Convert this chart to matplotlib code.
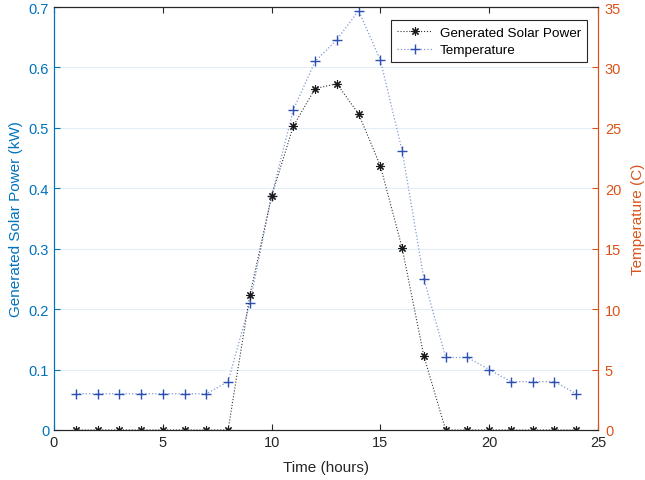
import matplotlib.pyplot as plt

plt.rcParams['font.family'] = ['Liberation Sans', 'DejaVu Sans']

hours = list(range(1, 25))
power = [0, 0, 0, 0, 0, 0, 0, 0, 0.223, 0.387, 0.503, 0.565, 0.573, 0.523,
         0.437, 0.301, 0.122, 0, 0, 0, 0, 0, 0, 0]
temperature = [3, 3, 3, 3, 3, 3, 3, 4, 10.5, 19.4, 26.5, 30.5, 32.3, 34.7,
               30.6, 23.1, 12.5, 6, 6, 5, 4, 4, 4, 3]

left_color = '#0072BD'
right_color = '#D95319'

fig = plt.figure(figsize=(6.45, 4.81), dpi=100)
ax = fig.add_axes([54 / 645, 50 / 481, 544 / 645, 423 / 481])
ax2 = ax.twinx()

# asterisk marker like matlab '*'
l1, = ax.plot(hours, power, linestyle=':', color='#333333', linewidth=0.8,
              marker=(8, 2, 0), markersize=6, markeredgewidth=0.8,
              markeredgecolor='#1a1a1a', label='Generated Solar Power')
l2, = ax2.plot(hours, temperature, linestyle=':', color='#7f9ad6', linewidth=0.9,
               marker='+', markersize=7.5, markeredgewidth=1.0,
               markeredgecolor='#2c4fb0', markerfacecolor='#2c4fb0', label='Temperature')
ax.set_zorder(ax2.get_zorder() + 1)
ax.patch.set_visible(False)

ax.set_xlim(0, 25)
ax.set_ylim(0, 0.7)
ax2.set_ylim(0, 35)
ax.set_xticks([0, 5, 10, 15, 20, 25])
ax.set_yticks([0, 0.1, 0.2, 0.3, 0.4, 0.5, 0.6, 0.7])
ax.set_yticklabels(['0', '0.1', '0.2', '0.3', '0.4', '0.5', '0.6', '0.7'])
ax2.set_yticks([0, 5, 10, 15, 20, 25, 30, 35])

# grid on the lower axes so it stays behind both lines
ax2.xaxis.grid(True, color='#e6e6e6', linewidth=0.8)
ax2.yaxis.grid(True, color='#e3eef7', linewidth=0.8)
ax2.set_axisbelow(True)

ax.tick_params(axis='x', direction='in', colors='#262626', labelsize=10.5, length=4)
ax.tick_params(axis='y', direction='in', colors=left_color, labelsize=10.5, length=4)
ax2.tick_params(axis='y', direction='in', colors=right_color, labelsize=10.5, length=4, pad=5)
ax.tick_params(top=True, direction='in')

for a in (ax, ax2):
    a.spines['top'].set_color('#262626')
    a.spines['bottom'].set_color('#262626')
    a.spines['left'].set_color(left_color)
    a.spines['right'].set_color(right_color)

ax.set_xlabel('Time (hours)', fontsize=11, color='#262626', labelpad=8)
ax.set_ylabel('Generated Solar Power (kW)', fontsize=11, color=left_color)
ax2.set_ylabel('Temperature (C)', fontsize=11, color=right_color, labelpad=7)

leg = ax.legend([l1, l2], ['Generated Solar Power', 'Temperature'], loc='upper right',
                bbox_to_anchor=(0.993, 0.985), fontsize=9.7, fancybox=False,
                framealpha=1, edgecolor='#262626', borderpad=0.45, handlelength=2.6,
                handletextpad=0.6, labelspacing=0.4)
leg.get_frame().set_linewidth(0.8)

fig.savefig('out.png', dpi=100)
